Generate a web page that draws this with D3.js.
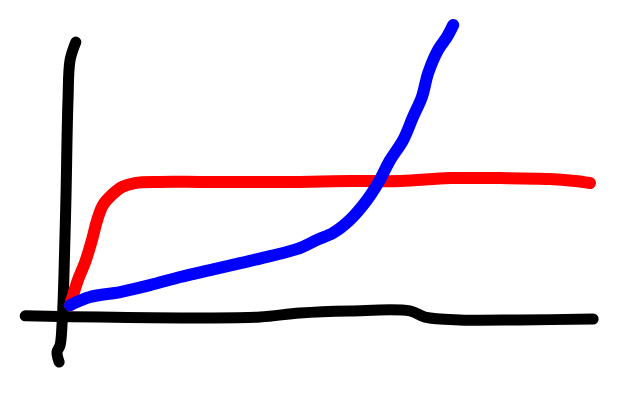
<!DOCTYPE html>
<html>
<head>
<meta charset="utf-8">
<script src="https://cdn.jsdelivr.net/npm/d3@7"></script>
<style>
  html, body { margin: 0; padding: 0; background: #fff; }
</style>
</head>
<body>
<svg id="chart" width="640" height="400"></svg>
<script>
// hand drawn sketch, values in chart units (x 0..100, y 0..100)
var red_x = [0.4, 1.9, 3.3, 4.6, 5.6, 6.7, 8.4, 10.3, 12.8, 17.6, 25.3, 34.9, 44.4, 54.0, 63.6, 73.2, 82.8, 92.3, 97.1, 100]
var red_y = [3.4, 12.1, 18.3, 25.9, 32.8, 37.9, 41.4, 44.1, 45.5, 45.9, 45.9, 45.9, 45.9, 46.2, 46.2, 47.2, 47.2, 46.9, 46.2, 45.5]

var blue_x = [0.4, 4.2, 10.0, 15.7, 21.5, 27.2, 33.0, 38.7, 44.4, 47.7, 50.8, 54.0, 57.3, 59.4, 61.7, 64.2, 66.1, 67.8, 69.0, 70.9, 72.6, 73.8]
var blue_y = [3.4, 6.2, 7.9, 10.3, 13.1, 15.5, 17.9, 20.3, 23.1, 25.9, 28.3, 32.8, 39.7, 45.5, 53.4, 60.3, 68.3, 75.2, 83.4, 91.4, 95.9, 100]

// axis strokes, drawn by hand too
var xaxis_x = [-8.2, 6.1, 25.3, 36.8, 44.4, 54.0, 65.5, 68.4, 75.1, 86.6, 100.6]
var xaxis_y = [-0.3, -0.7, -1.0, -0.7, 0.7, 1.4, 1.4, -0.7, -1.7, -1.7, -1.4]

var yaxis_x = [1.5, 0.4, 0, -0.4, -0.8, -1.1, -1.5, -2.1, -1.7]
var yaxis_y = [94.1, 87.9, 74.1, 39.7, 12.1, -1.7, -10.3, -12.8, -16.2]

var x = d3.scaleLinear()
    .domain([0, 100])
    .range([68, 590])

var y = d3.scaleLinear()
    .domain([0, 100])
    .range([315, 25])

var line = d3.line()
    .x(d => x(d[0]))
    .y(d => y(d[1]))
    .curve(d3.curveCatmullRom)

const svg = d3.select('#chart')

function stroke(xs, ys, color, width) {
    svg.append('path')
        .datum(d3.zip(xs, ys))
        .attr('fill', 'none')
        .attr('stroke', color)
        .attr('stroke-width', width)
        .attr('stroke-linejoin', 'round')
        .attr('stroke-linecap', 'round')
        .attr('d', line)
}

stroke(yaxis_x, yaxis_y, '#000', 11)
stroke(xaxis_x, xaxis_y, '#000', 11)
stroke(red_x, red_y, '#ff0000', 12)
stroke(blue_x, blue_y, '#0000ff', 12)
</script>
</body>
</html>
